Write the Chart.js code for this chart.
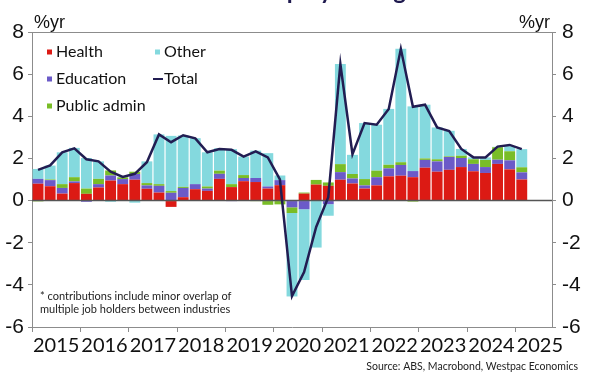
<!DOCTYPE html>
<html>
<head>
<meta charset="utf-8">
<script src="https://cdn.jsdelivr.net/npm/chart.js@4"></script>
<style>
  html, body { margin: 0; padding: 0; background: #fff; }
  #contenedor { width: 600px; height: 385px; position: relative; }
</style>
</head>
<body>
<div id="contenedor"><canvas id="grafico" width="600" height="385"></canvas></div>
<script>
// trimestres (eje x) y etiquetas de año
const trimestres = [
  "2015Q1","2015Q2","2015Q3","2015Q4","2016Q1","2016Q2","2016Q3","2016Q4",
  "2017Q1","2017Q2","2017Q3","2017Q4","2018Q1","2018Q2","2018Q3","2018Q4",
  "2019Q1","2019Q2","2019Q3","2019Q4","2020Q1","2020Q2","2020Q3","2020Q4",
  "2021Q1","2021Q2","2021Q3","2021Q4","2022Q1","2022Q2","2022Q3","2022Q4",
  "2023Q1","2023Q2","2023Q3","2023Q4","2024Q1","2024Q2","2024Q3","2024Q4",
  "2025Q1","2025Q2","2025Q3"
];
const anios = ["2015","2016","2017","2018","2019","2020","2021","2022","2023","2024","2025"];

// contribuciones, %yr
const salud = [0.80,0.68,0.33,0.83,0.32,0.62,0.95,0.78,0.99,0.56,
  0.38,-0.30,0.16,0.54,0.46,1.03,0.64,0.92,0.88,0.57,
  0.73,0.02,0.33,0.76,0.70,0.99,0.81,0.57,0.72,1.15,
  1.18,1.11,1.56,1.37,1.46,1.59,1.39,1.31,1.74,1.48,1.00];
const educacion = [0.23,0.29,0.27,0.08,-0.06,0.16,0.24,0.24,0.27,0.16,
  0.32,0.37,0.44,0.24,0.11,0.24,-0.03,0.15,0.19,0.10,
  0.24,-0.32,-0.41,0.00,-0.17,0.36,0.24,0.15,0.39,0.38,
  0.51,0.29,0.37,0.49,0.61,0.43,0.35,0.28,0.20,0.43,0.34];
const adminPublica = [-0.04,0.03,0.18,0.20,0.25,0.25,0.24,0.08,0.11,0.11,
  0.08,0.08,0.05,0.00,0.10,0.15,0.14,0.14,-0.03,-0.20,
  -0.18,-0.27,0.05,0.22,0.16,0.38,0.21,0.30,0.31,0.17,
  0.13,-0.05,0.07,0.10,0.03,0.11,0.22,0.34,0.59,0.43,0.24];
const otros = [0.47,0.66,1.51,1.39,1.45,0.83,-0.06,0.03,-0.10,1.03,
  2.36,2.62,2.44,2.18,1.62,1.06,1.66,0.88,1.30,1.58,
  0.22,-3.96,-3.36,-2.23,-0.55,4.75,0.91,2.66,2.18,2.65,
  5.38,3.07,2.55,1.51,1.21,0.32,0.09,0.12,0.02,0.24,0.86];
const total = [1.46,1.67,2.29,2.48,1.96,1.86,1.37,1.12,1.27,1.82,
  3.14,2.77,3.10,2.95,2.29,2.45,2.41,2.09,2.34,2.05,
  1.00,-4.53,-3.39,-1.25,0.16,6.48,2.20,3.68,3.60,4.35,
  7.20,4.45,4.55,3.47,3.30,2.45,2.05,2.05,2.56,2.64,2.44];

const gris = "#8c8c8c";
const fuenteNum = "'Liberation Sans Narrow', 'Liberation Sans', Arial, sans-serif";

// textos extra, leyenda y marco
const extras = {
  id: "extras",
  beforeDatasetDraw(chart, args) {
    if (args.meta.type !== "line") return;
    const { ctx, chartArea, scales } = chart;
    const y0 = scales.y.getPixelForValue(0);
    ctx.save();
    ctx.strokeStyle = "#555";
    ctx.lineWidth = 1.5;
    ctx.beginPath();
    ctx.moveTo(chartArea.left, y0);
    ctx.lineTo(chartArea.right, y0);
    ctx.stroke();
    ctx.restore();
  },
  afterDraw(chart) {
    const { ctx, chartArea } = chart;
    ctx.save();
    // borde superior
    ctx.strokeStyle = gris;
    ctx.lineWidth = 1;
    ctx.beginPath();
    ctx.moveTo(chartArea.left, chartArea.top + 0.5);
    ctx.lineTo(chartArea.right, chartArea.top + 0.5);
    ctx.stroke();

    // titulo cortado arriba (solo asoman los trazos inferiores)
    ctx.fillStyle = "#1f1a4f";
    ctx.font = "bold 24px Lato";
    ctx.textAlign = "center";
    ctx.textBaseline = "alphabetic";
    ctx.fillText("Public sector employment growth", 290, -1);

    // %yr
    ctx.fillStyle = "#111";
    ctx.font = "18px " + fuenteNum;
    ctx.textAlign = "left";
    ctx.fillText("%yr", 34, 28);
    ctx.textAlign = "right";
    ctx.fillText("%yr", 550, 28);

    // leyenda
    const ds = chart.data.datasets;
    const items = [
      { d: ds[1], x: 47, y: 52 },
      { d: ds[4], x: 155, y: 52 },
      { d: ds[2], x: 47, y: 79 },
      { d: ds[0], x: 155, y: 79 },
      { d: ds[3], x: 47, y: 106 }
    ];
    ctx.font = "16px Lato";
    ctx.textAlign = "left";
    ctx.textBaseline = "middle";
    items.forEach(it => {
      if (it.d.type === "line") {
        ctx.strokeStyle = it.d.borderColor;
        ctx.lineWidth = 2;
        ctx.beginPath();
        ctx.moveTo(it.x - 2, it.y);
        ctx.lineTo(it.x + 8, it.y);
        ctx.stroke();
      } else {
        ctx.fillStyle = it.d.backgroundColor;
        ctx.fillRect(it.x, it.y - 2.5, 5, 5);
      }
      ctx.fillStyle = "#111";
      ctx.fillText(it.d.label, it.x + 9, it.y);
    });

    // nota
    ctx.font = "11px Lato";
    ctx.fillStyle = "#222";
    ctx.fillText("* contributions include minor overlap of", 40, 296);
    ctx.fillText("multiple job holders between industries", 40, 309);

    // fuente
    ctx.font = "10.5px Lato";
    ctx.textAlign = "right";
    ctx.fillText("Source: ABS, Macrobond, Westpac Economics", 578, 367);
    ctx.restore();
  }
};

const barra = (label, data, color) => ({
  type: "bar",
  label: label,
  data: data,
  backgroundColor: color,
  borderWidth: 0,
  barPercentage: 0.9,
  categoryPercentage: 1,
  stack: "barras",
  order: 1
});

new Chart(document.getElementById("grafico").getContext("2d"), {
  data: {
    labels: trimestres,
    datasets: [
      {
        type: "line",
        label: "Total",
        data: total,
        borderColor: "#221d52",
        borderWidth: 2.5,
        pointRadius: 0,
        tension: 0,
        stack: "linea",
        order: 0
      },
      barra("Health", salud, "#dc1a14"),
      barra("Education", educacion, "#6b5ac8"),
      barra("Public admin", adminPublica, "#79bd27"),
      barra("Other", otros, "#84d9de")
    ]
  },
  options: {
    responsive: false,
    animation: false,
    layout: { padding: { top: 32, left: 0, right: 0, bottom: 0 } },
    plugins: { legend: { display: false }, tooltip: { enabled: false } },
    scales: {
      x: {
        stacked: true,
        offset: true,
        grid: {
          offset: true,
          drawOnChartArea: false,
          tickLength: 5,
          tickColor: ctx => (ctx.index % 4 === 0 ? gris : "rgba(0,0,0,0)")
        },
        border: { color: gris },
        ticks: {
          autoSkip: false,
          maxRotation: 0,
          minRotation: 0,
          labelOffset: 6,
          padding: 2,
          color: "#111",
          font: { family: "Lato", size: 20 },
          callback: (v, i) => (i % 4 === 1 ? anios[(i - 1) / 4] : "")
        },
        afterFit: s => { s.height = 58; }
      },
      y: {
        stacked: true,
        min: -6,
        max: 8,
        ticks: { stepSize: 2, padding: 4, color: "#111", font: { family: fuenteNum, size: 21 } },
        grid: {
          color: "rgba(0,0,0,0)",
          tickLength: 4,
          tickColor: gris
        },
        border: { color: gris },
        afterFit: s => { s.width = 32; }
      },
      y2: {
        position: "right",
        min: -6,
        max: 8,
        ticks: { stepSize: 2, padding: 6, color: "#111", font: { family: fuenteNum, size: 21 } },
        grid: { drawOnChartArea: false, tickLength: 4, tickColor: gris },
        border: { color: gris },
        afterFit: s => { s.width = 48; }
      }
    }
  },
  plugins: [extras]
});
</script>
</body>
</html>
